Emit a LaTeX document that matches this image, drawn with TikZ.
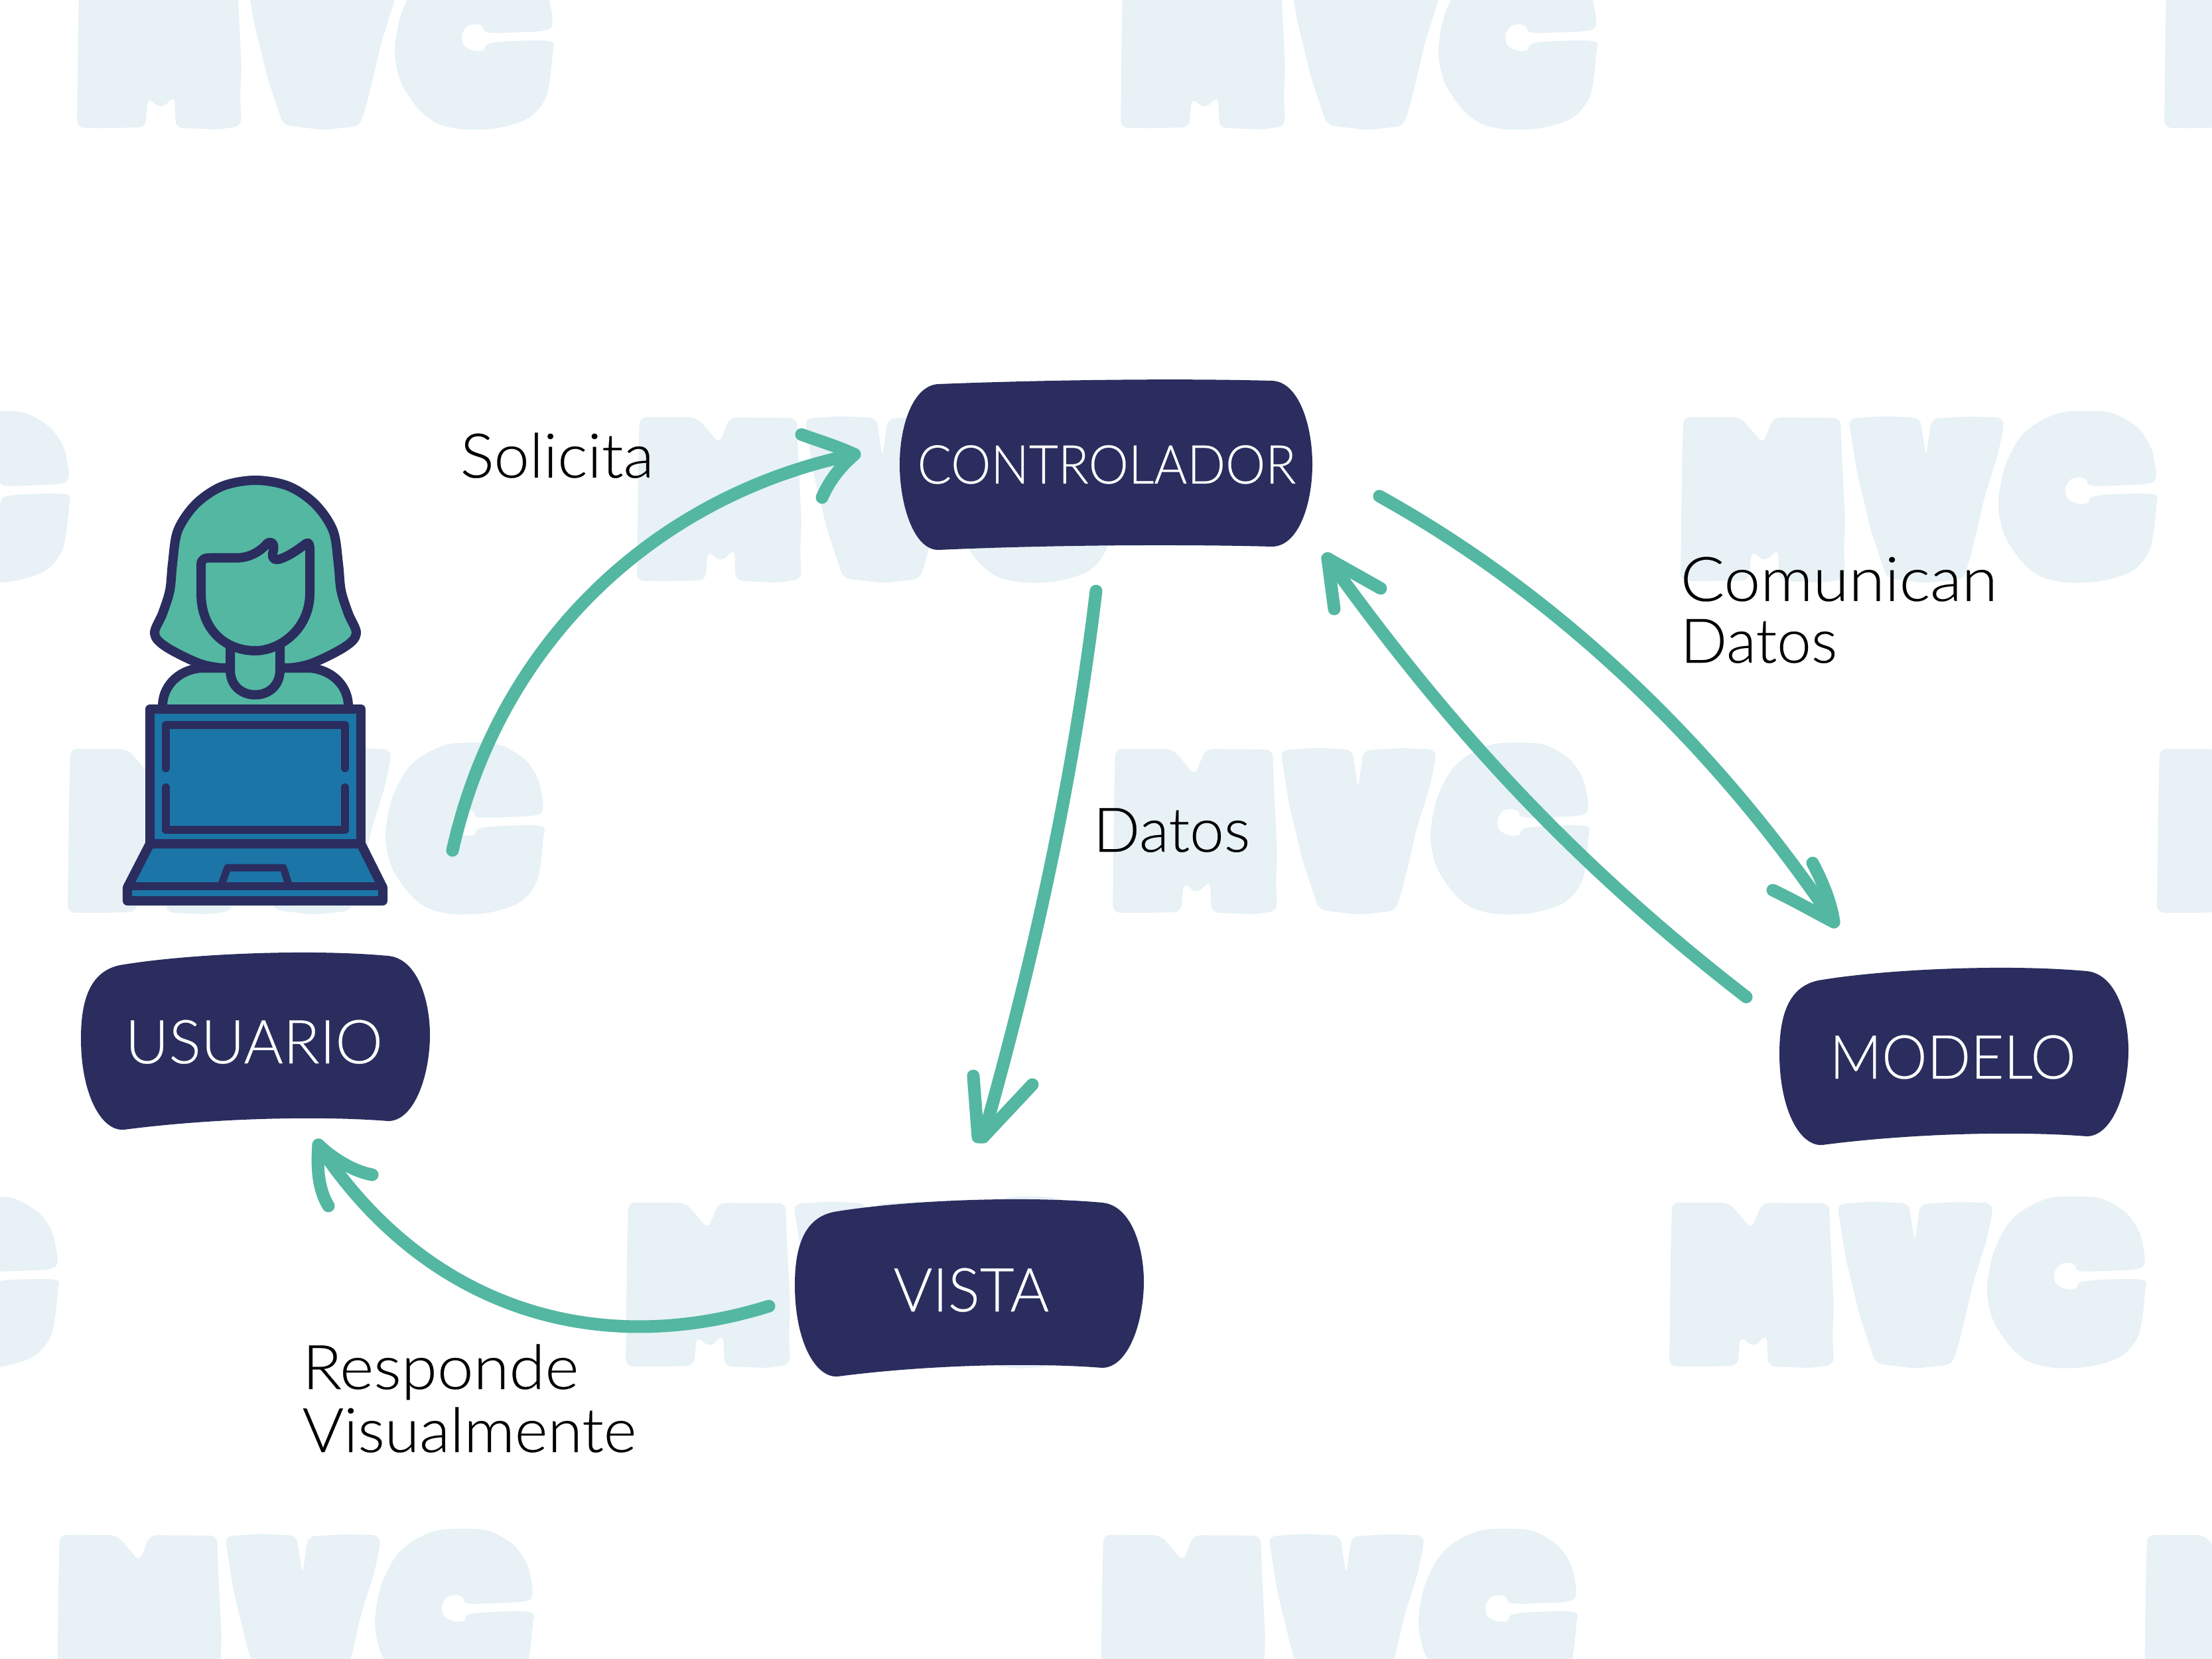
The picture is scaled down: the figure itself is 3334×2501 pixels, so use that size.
\documentclass[tikz,border=0pt]{standalone}
\usepackage{fontspec}
\setmainfont[FakeBold=0.25]{Lato Light}
\definecolor{navy}{HTML}{2A2D5E}
\definecolor{teal}{HTML}{53B7A2}
\definecolor{screenblue}{HTML}{1B75A6}
\definecolor{wash}{HTML}{E7F1F6}
\newcommand{\sx}[2]{\scalebox{#1}[1]{#2}}
\tikzset{
  mark/.pic={
    \fill[wash,rounded corners=3] (3,1)--(89,2)--(110,38)--(123,63)--(139,2)--(240,3)--(242,89)--(247,242)--(245,304)--(247,375)--(212,383)--(148,379)--(146,305)--(126,336)--(106,309)--(102,378)--(38,380)--(-1,379)--(1,130)--cycle;
    \fill[wash,rounded corners=3] (252,5)--(304,-1)--(360,3)--(369,94)--(377,5)--(431,0)--(485,2)--(486,23)--(477,89)--(457,186)--(444,273)--(434,334)--(425,375)--(370,384)--(310,373)--(286,263)--(265,130)--cycle;
    \fill[wash] plot[smooth cycle,tension=0.5] coordinates {(712,150)(712,94)(704,59)(686,23)(650,-8)(607,-13)(569,-8)(533,18)(508,54)(487,120)(478,202)(487,273)(513,334)(543,370)(584,383)(635,379)(681,355)(707,304)(716,207)(713,180)(656,179)(619,185)(612,200)(597,201)(582,189)(579,165)(587,145)(600,140)(610,145)(617,159)(656,159)};
  },
  wideblob/.pic={
    \fill[navy] (-252,-121) .. controls (-100,-127) and (100,-130) .. (250,-126) .. controls (290,-125) and (311,-60) .. (311,0) .. controls (311,60) and (290,124) .. (250,124) .. controls (100,120) and (-100,122) .. (-252,129) .. controls (-290,130) and (-311,60) .. (-311,0) .. controls (-311,-60) and (-290,-120) .. (-252,-121) -- cycle;
  },
  narrowblob/.pic={
    \fill[navy] (-198,-116) .. controls (-100,-132) and (80,-140) .. (200,-129) .. controls (245,-125) and (263,-60) .. (263,-10) .. controls (263,50) and (240,120) .. (200,120) .. controls (100,112) and (-60,115) .. (-198,133) .. controls (-232,136) and (-263,80) .. (-263,-5) .. controls (-263,-70) and (-245,-110) .. (-198,-116) -- cycle;
  },
  boxtext/.style={text=white,font=\fontsize{23}{25}\selectfont,anchor=base west,inner sep=0pt},
  boxtextbig/.style={text=white,font=\fontsize{26}{28}\selectfont,anchor=base west,inner sep=0pt},
  lab/.style={text=black,font=\fontsize{26.4}{26.7}\selectfont,anchor=base west,inner sep=0pt,align=left},
  flow/.style={draw=teal,line width=0.19cm,line cap=round,line join=round},
  ink/.style={draw=navy,line width=0.14cm,line join=round,line cap=round},
}
\begin{document}
\begin{tikzpicture}[x=0.01cm,y=-0.01cm]
\useasboundingbox (0,0) rectangle (3334,2501);
\clip (0,0) rectangle (3334,2501);
\fill[white] (0,0) rectangle (3334,2501);
\foreach \px/\py in {117/-55,1690/-55,3263/-55,-612/628,961/628,2534/628,103/1128,1678/1128,3252/1128,-629/1812,944/1812,2517/1812,87/2313,1660/2313,3233/2313}{
  \pic[yscale=0.6533] at (\px,\py) {mark};
}
% person
\draw[ink,fill=teal] plot[smooth cycle,tension=0.55] coordinates {(260,850)(268,800)(295,760)(335,733)(385,724)(435,733)(475,760)(502,800)(510,850)(514,890)(525,925)(537,955)(520,975)(470,1000)(430,1008)(385,1012)(340,1008)(300,1000)(250,975)(233,955)(245,925)(256,890)};
\draw[ink,fill=teal] (245,1065) .. controls (245,1030) and (275,1007) .. (307,1007) -- (463,1007) .. controls (495,1007) and (525,1030) .. (525,1065);
\draw[ink,fill=teal] (347,970) -- (347,1010) .. controls (347,1060) and (422,1060) .. (422,1010) -- (422,970);
\draw[ink,fill=teal] (303,852) .. controls (303,841) and (310,841) .. (320,841) -- (357,841) .. controls (375,841) and (392,832) .. (403,819) .. controls (410,815) and (414,820) .. (412,830) .. controls (408,842) and (414,846) .. (424,842) .. controls (440,836) and (452,826) .. (462,819) .. controls (466,817) and (467,822) .. (467,830) -- (467,894) .. controls (467,950) and (420,981) .. (385,981) .. controls (340,981) and (303,950) .. (303,894) -- cycle;
% laptop
\draw[ink,fill=screenblue] (192,1338) -- (226,1272) -- (544,1272) -- (577,1338) -- (577,1358) -- (192,1358) -- cycle;
\draw[ink,fill=screenblue] (226,1069) rectangle (544,1272);
\draw[ink,line width=0.12cm] (192,1336) -- (577,1336);
\draw[ink,line width=0.11cm] (334,1333) -- (343,1308) -- (427,1308) -- (435,1333);
\draw[ink,line width=0.12cm] (250,1158) -- (250,1093) -- (520,1093) -- (520,1158);
\draw[ink,line width=0.12cm] (250,1187) -- (250,1251) -- (520,1251) -- (520,1187);
% boxes
\pic at (1667,700) {wideblob};
\pic at (385,1570) {narrowblob};
\pic at (2945,1593) {narrowblob};
\pic at (1461,1942) {narrowblob};
\node[boxtext] (ctrl) at (1382,729) {\sx{0.94}{CONTROLADOR}};
\node[boxtextbig] (usr) at (188,1603) {\sx{0.99}{USUARIO}};
\node[boxtextbig] (mod) at (2757,1626) {\sx{0.945}{MODELO}};
\node[boxtextbig] (vis) at (1346,1977) {\sx{0.98}{VISTA}};
% labels
\node[lab] (l1) at (693,720) {\sx{1.03}{Solicita}};
\node[lab] (l2) at (1647,1284) {Datos};
\node[lab] (l3) at (2532,906) {\sx{1.06}{Comunican}};
\node[lab] (l3b) at (2532,999) {Datos};
\node[lab] (l4) at (455,2094) {\sx{1.055}{Responde}};
\node[lab] (l4b) at (455,2189) {\sx{1.025}{Visualmente}};
% connectors
\coordinate (a1s) at (682,1282); \coordinate (a1t) at (1288,685);
\coordinate (a2s) at (1652,891); \coordinate (a2t) at (1482,1714);
\coordinate (a3s) at (2079,748); \coordinate (a3t) at (2764,1390);
\coordinate (a4s) at (2632,1503); \coordinate (a4t) at (2001,842);
\coordinate (a5s) at (1159,1969); \coordinate (a5t) at (480,1726);
\draw[flow] (a1s) .. controls (755,957) and (999,744) .. (a1t);
\draw[flow] (1208,655) .. controls (1235,665) and (1260,672) .. (a1t) .. controls (1265,705) and (1250,725) .. (1239,750);
\draw[flow] (a2s) .. controls (1616,1191) and (1552,1467) .. (a2t);
\draw[flow] (1467,1622) -- (1474,1714) -- (a2t) -- (1556,1635);
\draw[flow] (a3s) .. controls (2360,904) and (2594,1137) .. (a3t);
\draw[flow] (2672,1342) .. controls (2700,1355) and (2735,1375) .. (a3t) .. controls (2760,1360) and (2745,1325) .. (2732,1301);
\draw[flow] (a4s) .. controls (2379,1307) and (2190,1106) .. (a4t);
\draw[flow] (2011,918) -- (a4t) -- (2081,887);
\draw[flow] (a5s) .. controls (893,2052) and (638,1967) .. (a5t);
\draw[flow] (495,1818) .. controls (478,1790) and (478,1755) .. (a5t) .. controls (500,1745) and (530,1765) .. (561,1771);
\end{tikzpicture}
\end{document}
